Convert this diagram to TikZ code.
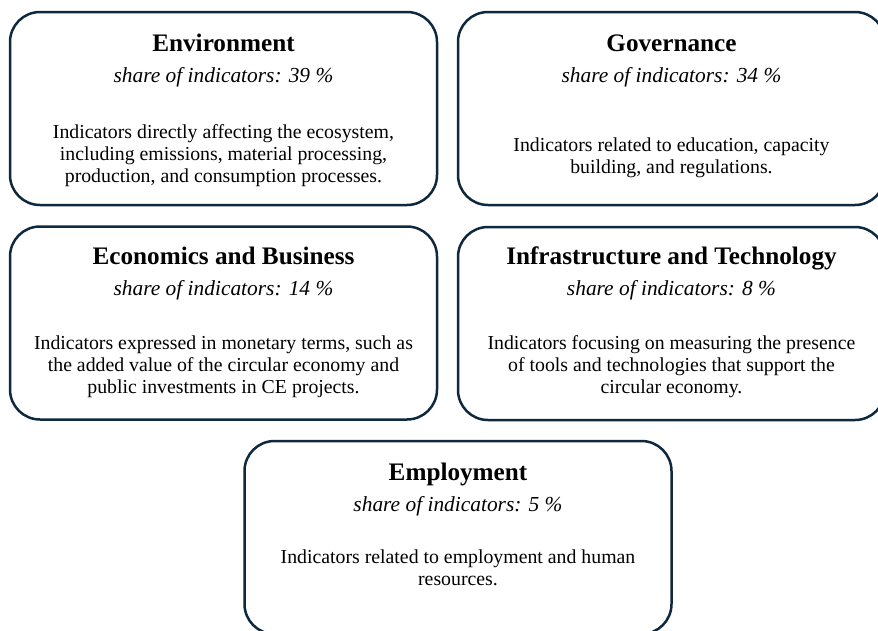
\documentclass[tikz,border=0pt]{standalone}
\usepackage{fontspec}
\setmainfont{Liberation Serif}
\definecolor{boxline}{RGB}{14,41,62}
\tikzstyle{panel} = [rectangle, rounded corners=30pt, minimum width=427pt, minimum height=193pt, draw=boxline, line width=2.5pt]
\tikzstyle{heading} = [anchor=base, inner sep=0pt, font=\fontsize{25.2}{30}\selectfont\bfseries]
\tikzstyle{share} = [anchor=base, inner sep=0pt, font=\fontsize{21.4}{26}\selectfont\itshape]
\tikzstyle{desc} = [anchor=base, inner sep=0pt, align=center, font=\fontsize{19.8}{22}\selectfont]

\begin{document}
\begin{tikzpicture}[x=1pt, y=-1pt]
\useasboundingbox (0,0) rectangle (878,630);

\node (0) [panel] at (223.5,108.5) {};
\node (1) [panel] at (671.5,108.5) {};
\node (2) [panel] at (223.5,323) {};
\node (3) [panel] at (671.5,323.5) {};
\node (4) [panel] at (458,537.5) {};

% titles and shares
\node (0t) [heading] at ([yshift=-41pt]0.north) {Environment};
\node (0s) [share] at ([yshift=-72pt]0.north) {share of indicators: 39 \%};
\node (1t) [heading] at ([yshift=-41pt]1.north) {Governance};
\node (1s) [share] at ([yshift=-72pt]1.north) {share of indicators: 34 \%};
\node (2t) [heading] at ([yshift=-39pt]2.north) {Economics and Business};
\node (2s) [share] at ([yshift=-70pt]2.north) {share of indicators: 14 \%};
\node (3t) [heading] at ([yshift=-39pt]3.north) {Infrastructure and Technology};
\node (3s) [share] at ([yshift=-70pt]3.north) {share of indicators: 8 \%};
\node (4t) [heading] at ([yshift=-41pt]4.north) {Employment};
\node (4s) [share] at ([yshift=-72pt]4.north) {share of indicators: 5 \%};

% descriptions (base = last line)
\node (0d) [desc] at ([yshift=-172pt]0.north) {Indicators directly affecting the ecosystem,\\including emissions, material processing,\\production, and consumption processes.};
\node (1d) [desc] at ([yshift=-163pt]1.north) {Indicators related to education, capacity\\building, and regulations.};
\node (2d) [desc] at ([yshift=-168pt]2.north) {Indicators expressed in monetary terms, such as\\the added value of the circular economy and\\public investments in CE projects.};
\node (3d) [desc] at ([yshift=-168pt]3.north) {Indicators focusing on measuring the presence\\of tools and technologies that support the\\circular economy.};
\node (4d) [desc] at ([yshift=-146pt]4.north) {Indicators related to employment and human\\resources.};

\end{tikzpicture}
\end{document}
